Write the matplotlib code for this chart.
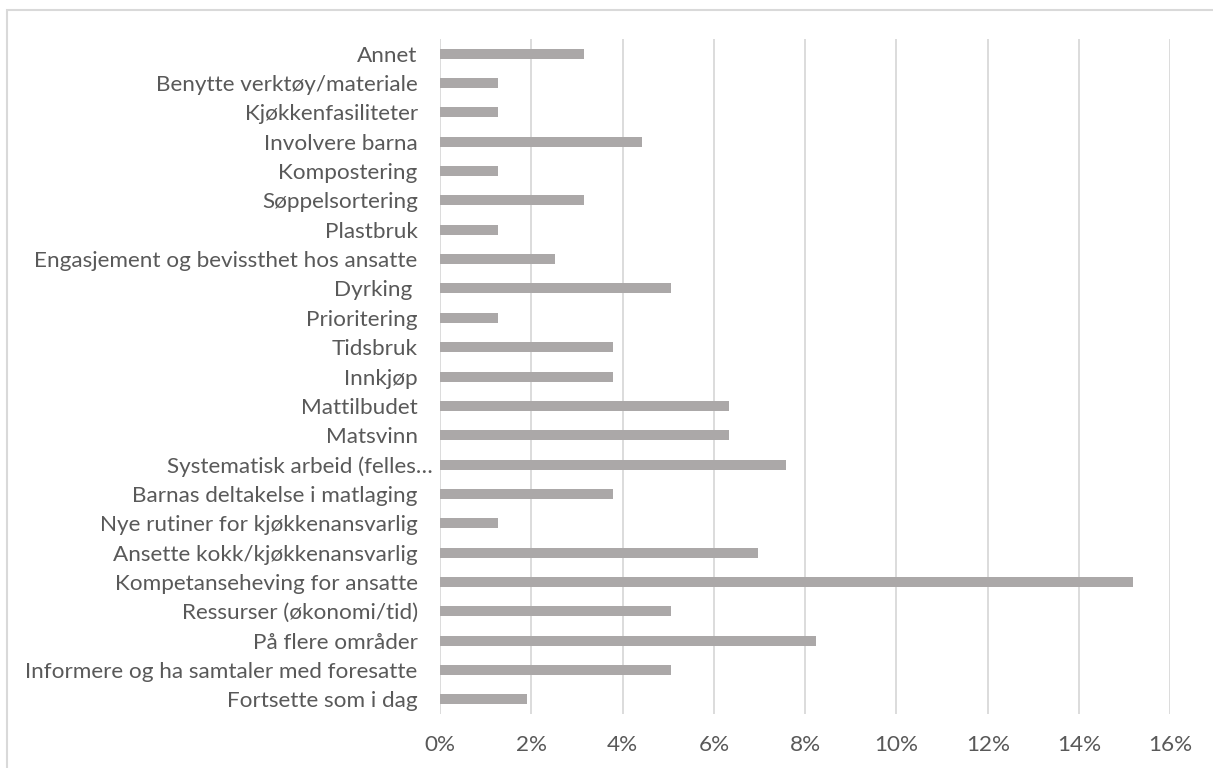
import matplotlib.pyplot as plt
from matplotlib.patches import Rectangle
from matplotlib.ticker import FuncFormatter
from matplotlib.transforms import ScaledTranslation

plt.rcParams['font.family'] = ['Lato', 'DejaVu Sans']

# top to bottom, as shown
categories = [
    'Annet', 'Benytte verktøy/materiale', 'Kjøkkenfasiliteter', 'Involvere barna',
    'Kompostering', 'Søppelsortering', 'Plastbruk',
    'Engasjement og bevissthet hos ansatte', 'Dyrking ', 'Prioritering',
    'Tidsbruk', 'Innkjøp', 'Mattilbudet', 'Matsvinn',
    'Systematisk arbeid (felles…', 'Barnas deltakelse i matlaging',
    'Nye rutiner for kjøkkenansvarlig', 'Ansette kokk/kjøkkenansvarlig',
    'Kompetanseheving for ansatte', 'Ressurser (økonomi/tid)',
    'På flere områder', 'Informere og ha samtaler med foresatte',
    'Fortsette som i dag',
]
shares = [
    3.16, 1.27, 1.27, 4.43, 1.27, 3.16, 1.27, 2.53, 5.06, 1.27,
    3.80, 3.80, 6.33, 6.33, 7.59, 3.80, 1.27, 6.96, 15.19, 5.06,
    8.23, 5.06, 1.90,
]
xticks = [0, 2, 4, 6, 8, 10, 12, 14, 16]

BAR   = '#ABA8A8'
GRID  = '#D9D9D9'
TEXT  = '#595959'

fig = plt.figure(figsize=(12.13, 7.68), dpi=100)
ax = fig.add_axes([0.3627, 0.0703, 0.6022, 0.8789])

y = list(range(len(categories)))[::-1]
ax.barh(y, shares, height=0.34, color=BAR, zorder=3)

ax.set_xlim(0, 16)
ax.set_ylim(-0.5, len(categories) - 0.5)
ax.set_xticks(xticks)
ax.xaxis.set_major_formatter(FuncFormatter(lambda v, _: f'{v:.0f}%'))
ax.set_yticks(y)
ax.set_yticklabels(categories)
ax.grid(axis='x', color=GRID, linewidth=1.3, zorder=0)
ax.tick_params(axis='both', length=0, labelsize=16.2, colors=TEXT)
ax.tick_params(axis='x', pad=15)
ax.tick_params(axis='y', pad=16)
for s in ax.spines.values():
    s.set_visible(False)

# the truncated label sticks out a bit further right, like in Excel
for lbl in ax.get_yticklabels():
    if lbl.get_text().endswith('…'):
        lbl.set_transform(lbl.get_transform() +
                          ScaledTranslation(0.15, 0, fig.dpi_scale_trans))

# outer chart border (top and left visible)
fig.patches.append(Rectangle((7 / 1213, -0.05), 1.1, 1 - 10 / 768 + 0.05,
                             transform=fig.transFigure, fill=False,
                             edgecolor=GRID, linewidth=1.5))

fig.savefig('out.png', dpi=100)
